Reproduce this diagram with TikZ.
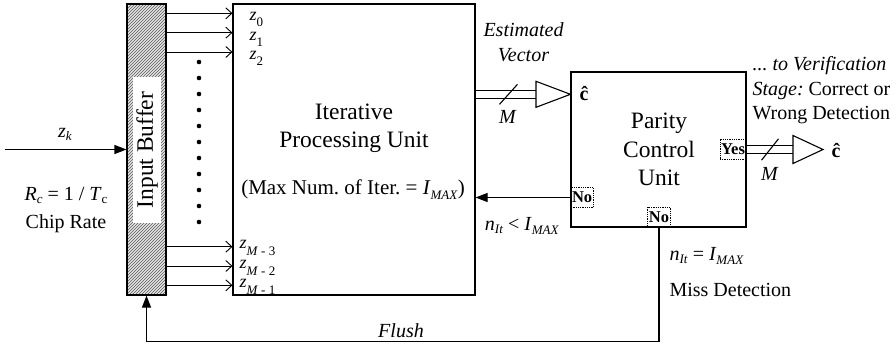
\documentclass[tikz,border=0pt]{standalone}
\usepackage{fontspec}
\setmainfont{Liberation Serif}
\usetikzlibrary{arrows.meta,patterns,positioning,calc}
\frenchspacing

\newcommand{\lowsub}[2][4pt]{\raisebox{-#1}{\fontsize{13}{13}\selectfont #2}}

\tikzset{
  bloc/.style={draw, line width=1.1pt, inner sep=0pt},
  tag/.style={draw, densely dotted, line width=0.8pt, inner sep=1.2pt, minimum height=20pt,
    font=\fontsize{16.5}{16.5}\selectfont\bfseries},
  big/.style={font=\fontsize{23.5}{28}\selectfont, inner sep=0pt, anchor=base},
  lbl/.style={font=\fontsize{20}{24}\selectfont, inner sep=0pt, anchor=base},
  zlbl/.style={font=\fontsize{18}{18}\selectfont, inner sep=0pt, anchor=base west},
  feed/.style={-{Triangle[length=12pt,width=9pt]}},
  feeder/.style={-{Straight Barb[length=6pt,width=11pt]}, line width=0.9pt},
  buswire/.style={double, double distance=7.3pt, line width=1.1pt},
}

\begin{document}
\begin{tikzpicture}[x=1pt, y=-1pt, line width=1.1pt]
  \useasboundingbox (0,0) rectangle (896,346);

  % Tampon d'entree
  \node[bloc, minimum width=39pt, minimum height=291pt, preaction={fill=gray!20},
    pattern=north east lines, pattern color=gray!70!black] (buf) at (146.5,149.5) {};
  \node[fill=white, rotate=90, minimum width=146pt, minimum height=28pt, inner sep=0pt,
    font=\fontsize{23.5}{28}\selectfont] (bufname) at (147,150) {Input Buffer};

  % Blocs principaux
  \node[bloc, minimum width=242pt, minimum height=291pt] (ipu) at (354,149.5) {};
  \node[bloc, minimum width=175pt, minimum height=155pt] (pcu) at (658.5,149.5) {};

  \node[big] (ipu1) at (354,119) {Iterative};
  \node[big] (ipu2) at (354,147) {Processing Unit};
  \node[big, font=\fontsize{21}{25}\selectfont] (ipu3) at (353,194)
    {(Max Num. of Iter. = \textit{I}\lowsub[5pt]{\textit{MAX}})};

  \node[big] (pcu1) at (659,128) {Parity};
  \node[big] (pcu2) at (659,157) {Control};
  \node[big] (pcu3) at (659,185) {Unit};

  % Entrees z
  \foreach \yy/\sub [count=\i] in {13.3/0, 32.7/1, 52/2} {
    \coordinate (t\i) at (0,\yy);
    \draw[feeder] (buf.east |- t\i) -- (ipu.west |- t\i);
    \node[zlbl] (zt\i) at (249,\yy+7.4) {\textit{z}\lowsub[6pt]{\sub}};
  }
  \foreach \yy/\sub [count=\i] in {246.7/3, 266/2, 285.3/1} {
    \coordinate (b\i) at (0,\yy);
    \draw[feeder] (buf.east |- b\i) -- (ipu.west |- b\i);
    \node[zlbl] (zb\i) at (239,\yy+2) {\textit{z}\lowsub[7pt]{\textit{M} - \sub}};
  }
  \foreach \k in {0,...,10}
    \fill (199,62+16*\k) circle (2.3pt);

  % Entree chip
  \coordinate (zin) at (5,149.5);
  \draw[feed] (zin) -- (buf.west);
  \node[lbl] (zk) at (65,137) {\textit{z}\lowsub[3pt]{\textit{k}}};
  \node[lbl] (rate) at (66,200) {\textit{R}\lowsub[3pt]{\textit{c}} = 1 / \textit{T}\lowsub[3pt]{c}};
  \node[lbl] (chip) at (66,228) {Chip Rate};

  % Vecteur estime
  \coordinate (tipL) at (pcu.west |- 0,94.3);
  \coordinate (baseL) at (536,94.3);
  \draw[buswire] (ipu.east |- baseL) -- (baseL);
  \draw[fill=white] ($(baseL)+(0,-13)$) -- (tipL) -- ($(baseL)+(0,13)$) -- cycle;
  \draw (508.5,94.3) ++(-9,10) -- ++(18,-20);
  \node[lbl] (mL) at (508,123) {\textit{M}};
  \node[lbl, font=\fontsize{20}{24}\selectfont\itshape] (est1) at (523.5,36) {Estimated};
  \node[lbl, font=\fontsize{20}{24}\selectfont\itshape] (est2) at (523.5,61) {Vector};
  \node[lbl, anchor=base west] (chatL) at (579,100) {\textbf{ĉ}};

  % Etiquettes de decision
  \node[tag, anchor=east] (yes) at (pcu.east |- 0,149) {Yes};
  \node[tag, anchor=west] (nol) at (pcu.west |- 0,197.5) {No};
  \node[tag, anchor=south] (nob) at (pcu.south -| 659,0) {No};

  % Sortie vers verification
  \coordinate (baseR) at (793,149.5);
  \coordinate (tipR) at (823,149.5);
  \draw[buswire] (pcu.east |- baseR) -- (baseR);
  \draw[fill=white] ($(baseR)+(0,-14)$) -- (tipR) -- ($(baseR)+(0,14)$) -- cycle;
  \draw (770,149.5) ++(-8.5,10.7) -- ++(17,-21.4);
  \node[lbl] (mR) at (770,180) {\textit{M}};
  \node[lbl, anchor=base west] (chatR) at (831,157) {\textbf{ĉ}};
  \node[lbl, anchor=base west] (ver1) at (752,70) {\textit{... to Verification}};
  \node[lbl, anchor=base west] (ver2) at (752,95) {\textit{Stage:} Correct or};
  \node[lbl, anchor=base west] (ver3) at (752,119) {Wrong Detection};

  % Boucles de retour
  \draw[feed] (nol.west) -- (ipu.east |- nol.west);
  \node[lbl] (less) at (522,230) {\textit{n}\lowsub[3pt]{\textit{It}} < \textit{I}\lowsub[4pt]{\textit{MAX}}};
  \coordinate (fb) at (0,341.7);
  \draw[feed] (nob.south) -- (nob.south |- fb) -| (buf.south);
  \node[lbl, font=\fontsize{20}{24}\selectfont\itshape] (flush) at (401,337) {Flush};
  \node[lbl, anchor=base west] (equal) at (669,260) {\textit{n}\lowsub[3pt]{\textit{It}} = \textit{I}\lowsub[4pt]{\textit{MAX}}};
  \node[lbl, anchor=base west] (miss) at (669,296) {Miss Detection};
\end{tikzpicture}
\end{document}
